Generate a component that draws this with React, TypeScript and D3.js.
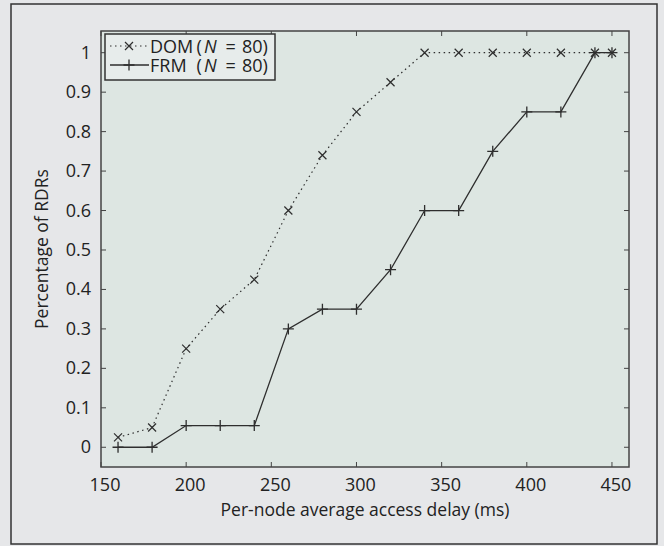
import * as d3 from 'd3';

// delay values (ms) on the x axis
const delays = [160, 180, 200, 220, 240, 260, 280, 300, 320, 340, 360, 380, 400, 420, 440, 450];
// fraction of RDRs for each scheme
const domValues = [0.025, 0.05, 0.25, 0.35, 0.425, 0.6, 0.74, 0.85, 0.925, 1, 1, 1, 1, 1, 1, 1];
const frmValues = [0, 0, 0.055, 0.055, 0.055, 0.3, 0.35, 0.35, 0.45, 0.6, 0.6, 0.75, 0.85, 0.85, 1, 1];
const xTicks = [150, 200, 250, 300, 350, 400, 450];
const yTicks = [0, 0.1, 0.2, 0.3, 0.4, 0.5, 0.6, 0.7, 0.8, 0.9, 1];
const seriesNames = ['DOM', 'FRM'];

const W = 664;
const H = 546;
const margin = { left: 101, right: 35, top: 31, bottom: 79 };
const font = '"Open Sans", sans-serif';
const ink = '#2e2e2e';

function App() {
  const x = d3.scaleLinear().domain([150, 460]).range([margin.left, W - margin.right]);
  const y = d3.scaleLinear().domain([-0.05, 1.055]).range([H - margin.bottom, margin.top]);

  const line = d3.line<number>()
    .x((_, i) => x(delays[i]))
    .y(d => y(d));

  const yFmt = (v: number) => (v === 0 || v === 1 ? String(v) : d3.format('.1f')(v));
  const [x0, x1] = x.range();
  const [y0, y1] = y.range();

  // marker drawers
  const cross = (cx: number, cy: number, k: string, s = 4) => (
    <path key={k} d={`M${cx - s},${cy - s}L${cx + s},${cy + s}M${cx - s},${cy + s}L${cx + s},${cy - s}`}
      stroke={ink} strokeWidth={1.2} fill="none" />
  );
  const plus = (cx: number, cy: number, k: string, s = 5.5) => (
    <path key={k} d={`M${cx - s},${cy}L${cx + s},${cy}M${cx},${cy - s}L${cx},${cy + s}`}
      stroke={ink} strokeWidth={1.3} fill="none" />
  );

  // legend label laid out in pieces: "DOM (N = 80)"
  const legendLabel = (name: string, by: number) => (
    <g key={name} fontSize={18} fill="#222">
      <text x={150} y={by}>{name}</text>
      <text x={196.5} y={by}>(</text>
      <text x={204} y={by} fontStyle="italic">N</text>
      <text x={225.5} y={by}>=</text>
      <text x={242} y={by}>80)</text>
    </g>
  );

  return (
    <svg width={W} height={H} style={{ position: 'absolute', left: 0, top: 0 }} fontFamily={font}>
      <rect x={0} y={0} width={W} height={H} fill="#e6e7e9" />
      <rect x={11} y={4} width={646} height={540} fill="#e6e7e9" stroke="#333" strokeWidth={1.5} />
      <rect x={x0} y={y1} width={x1 - x0} height={y0 - y1} fill="#dde6e2" stroke="#444" strokeWidth={1.5} />

      {/* ticks, inward on all sides */}
      {xTicks.map(t => (
        <g key={'xt' + t}>
          <line x1={x(t)} x2={x(t)} y1={y0} y2={y0 - 5} stroke="#444" />
          <line x1={x(t)} x2={x(t)} y1={y1} y2={y1 + 5} stroke="#444" />
          <text x={x(t) + 4} y={y0 + 24} textAnchor="middle" fontSize={18} fill="#222">{t}</text>
        </g>
      ))}
      {yTicks.map(t => (
        <g key={'yt' + t}>
          <line x1={x0} x2={x0 + 5} y1={y(t)} y2={y(t)} stroke="#444" />
          <line x1={x1} x2={x1 - 5} y1={y(t)} y2={y(t)} stroke="#444" />
          <text x={x0 - 10} y={y(t) + 6} textAnchor="end" fontSize={18} fill="#222">{yFmt(t)}</text>
        </g>
      ))}

      {/* series */}
      <path d={line(domValues) || ''} fill="none" stroke={ink} strokeWidth={1.2} strokeDasharray="1.5,3.5" />
      <path d={line(frmValues) || ''} fill="none" stroke={ink} strokeWidth={1.3} />
      {domValues.map((v, i) => cross(x(delays[i]), y(v), 'd' + i))}
      {frmValues.map((v, i) => plus(x(delays[i]), y(v), 'f' + i))}

      {/* legend */}
      <g>
        <rect x={105} y={34} width={170} height={46} fill="#e7eceb" stroke="#333" strokeWidth={1.5} />
        <line x1={110} x2={149} y1={46} y2={46} stroke={ink} strokeWidth={1.2} strokeDasharray="1.5,3.5" />
        {cross(129, 46, 'lc')}
        <line x1={110} x2={149} y1={65} y2={65} stroke={ink} strokeWidth={1.3} />
        {plus(129, 65, 'lp')}
        {legendLabel(seriesNames[0], 52.5)}
        {legendLabel(seriesNames[1], 71.5)}
      </g>

      {/* axis titles */}
      <text x={(x0 + x1) / 2} y={516} textAnchor="middle" fontSize={17.5} fill="#222">Per-node average access delay (ms)</text>
      <text transform={`translate(48,${(y0 + y1) / 2}) rotate(-90)`} textAnchor="middle" fontSize={17.5} fill="#222">Percentage of RDRs</text>
    </svg>
  );
}

export default App;
